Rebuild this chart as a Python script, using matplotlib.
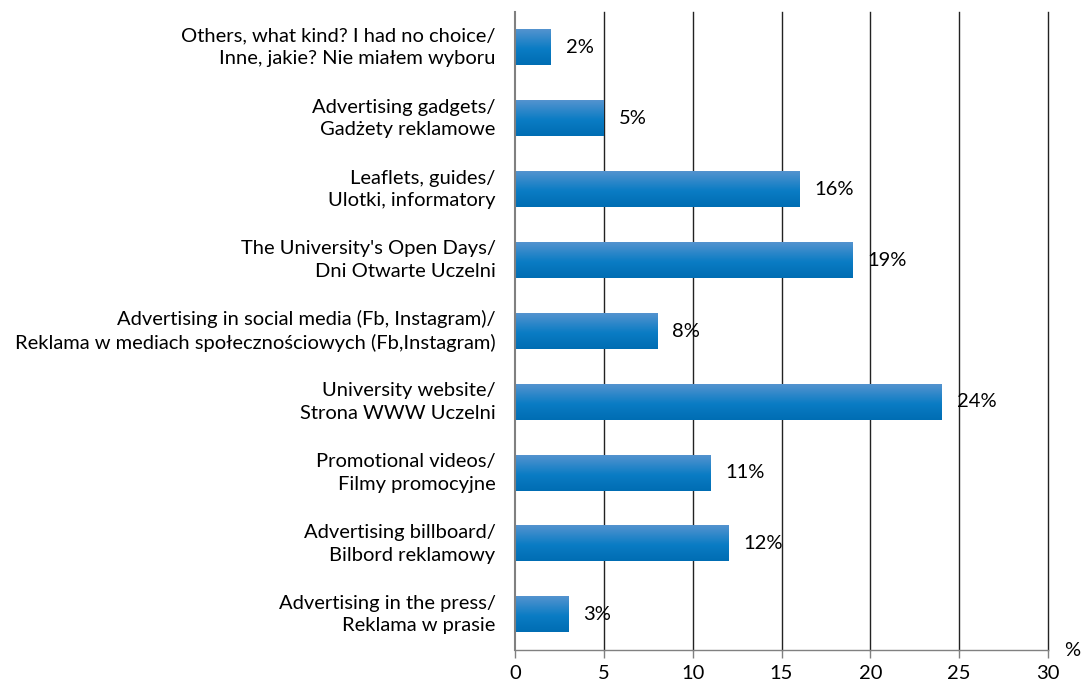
import numpy as np
import matplotlib
matplotlib.use("Agg")
import matplotlib.pyplot as plt
import matplotlib.transforms as mtransforms
from matplotlib.colors import LinearSegmentedColormap

plt.rcParams['font.family'] = ['Lato', 'DejaVu Sans']

categories = [
    "Advertising in the press/\nReklama w prasie",
    "Advertising billboard/\nBilbord reklamowy",
    "Promotional videos/\nFilmy promocyjne",
    "University website/\nStrona WWW Uczelni",
    "Advertising in social media (Fb, Instagram)/\nReklama w mediach społecznościowych (Fb,Instagram)",
    "The University's Open Days/\nDni Otwarte Uczelni",
    "Leaflets, guides/\nUlotki, informatory",
    "Advertising gadgets/\nGadżety reklamowe",
    "Others, what kind? I had no choice/\nInne, jakie? Nie miałem wyboru",
]
values = [3, 12, 11, 24, 8, 19, 16, 5, 2]
xticks = [0, 5, 10, 15, 20, 25, 30]

FS = 14.5

fig = plt.figure(figsize=(10.83, 6.82), dpi=100)
ax = fig.add_axes([515 / 1083, 32 / 682, 533 / 1083, 638 / 682])

ypos = np.arange(len(categories))
bars = ax.barh(ypos, values, height=0.5, color='#0a77c0', zorder=2)

# vertical gradient fill for each bar
cmap = LinearSegmentedColormap.from_list(
    'barfill', [(0.0, '#006db3'), (0.45, '#0a7cc4'), (1.0, '#5393cf')])
grad = np.linspace(0, 1, 64).reshape(-1, 1)
for b in bars:
    x0, y0 = b.get_x(), b.get_y()
    w, h = b.get_width(), b.get_height()
    ax.imshow(grad, cmap=cmap, aspect='auto', origin='lower',
              extent=[x0, x0 + w, y0, y0 + h], zorder=3)
    b.set_visible(False)

for y, v in zip(ypos, values):
    ax.annotate(f"{v}%", xy=(v, y), xytext=(11, 0), textcoords='offset points',
                ha='left', va='center', fontsize=FS, color='black', zorder=5)

ax.set_xlim(0, 30)
ax.set_ylim(-0.5, len(categories) - 0.5)
ax.set_xticks(xticks)
ax.set_xticklabels([str(t) for t in xticks], fontsize=FS)
ax.set_yticks(ypos)
ax.set_yticklabels(categories, fontsize=FS, linespacing=1.4)
ax.tick_params(axis='y', length=0, pad=14)
ax.tick_params(axis='x', length=6, width=1, color='#808080', pad=5)

# nudge category labels slightly upward
shift = mtransforms.ScaledTranslation(0, 3 / 72, fig.dpi_scale_trans)
for lbl in ax.get_yticklabels():
    lbl.set_transform(lbl.get_transform() + shift)

for t in xticks[1:]:
    ax.axvline(t, color='#222222', lw=1, zorder=1, clip_on=False)

for s in ['top', 'right']:
    ax.spines[s].set_visible(False)
ax.spines['left'].set_color('#808080')
ax.spines['left'].set_linewidth(1.5)
ax.spines['bottom'].set_color('#808080')
ax.spines['bottom'].set_linewidth(1)
ax.spines['left'].set_zorder(4)

fig.text(1072 / 1083, 1 - 650 / 682, "%", ha='center', va='center', fontsize=FS)

fig.savefig("out.png", dpi=100)
